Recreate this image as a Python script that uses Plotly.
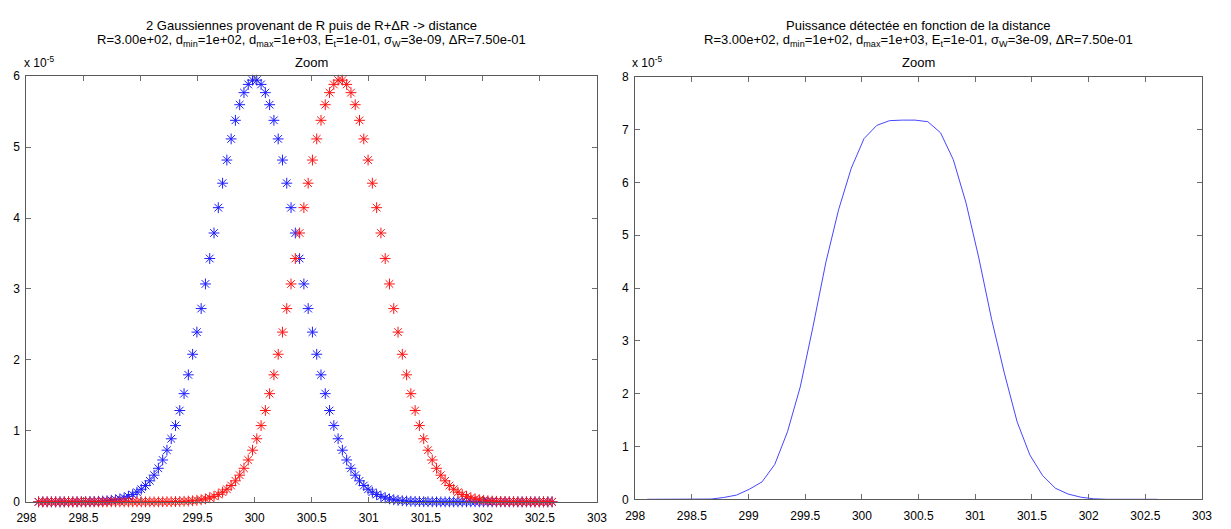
import plotly.graph_objects as go

# ---- data (values in units of 1e-5) ----
x_grid = [
    298.1063, 298.1438, 298.1813, 298.2188, 298.2563, 298.2938, 298.3313, 298.3688, 298.4063, 298.4438,
    298.4813, 298.5188, 298.5563, 298.5938, 298.6313, 298.6688, 298.7063, 298.7438, 298.7813, 298.8188,
    298.8563, 298.8938, 298.9313, 298.9688, 299.0063, 299.0438, 299.0813, 299.1188, 299.1563, 299.1938,
    299.2313, 299.2688, 299.3063, 299.3438, 299.3813, 299.4188, 299.4563, 299.4938, 299.5313, 299.5688,
    299.6063, 299.6438, 299.6813, 299.7188, 299.7563, 299.7938, 299.8313, 299.8688, 299.9063, 299.9438,
    299.9813, 300.0188, 300.0563, 300.0938, 300.1313, 300.1688, 300.2063, 300.2438, 300.2813, 300.3188,
    300.3563, 300.3938, 300.4313, 300.4688, 300.5063, 300.5438, 300.5813, 300.6188, 300.6563, 300.6938,
    300.7313, 300.7688, 300.8063, 300.8438, 300.8813, 300.9188, 300.9563, 300.9938, 301.0313, 301.0688,
    301.1063, 301.1438, 301.1813, 301.2188, 301.2563, 301.2938, 301.3313, 301.3688, 301.4063, 301.4438,
    301.4813, 301.5188, 301.5563, 301.5938, 301.6313, 301.6688, 301.7063, 301.7438, 301.7813, 301.8188,
    301.8563, 301.8938, 301.9313, 301.9688, 302.0063, 302.0438, 302.0813, 302.1188, 302.1563, 302.1938,
    302.2313, 302.2688, 302.3063, 302.3438, 302.3813, 302.4188, 302.4563, 302.4938, 302.5313, 302.5688,
    302.6063,
]

gauss_R = [
    0, 0, 0, 0, 0, 0, 0, 0, 0,
    0.001, 0.002, 0.002, 0.004, 0.005, 0.008, 0.011, 0.015, 0.022, 0.030,
    0.042, 0.057, 0.077, 0.103, 0.136, 0.178, 0.230, 0.296, 0.376, 0.473,
    0.590, 0.728, 0.889, 1.075, 1.287, 1.525, 1.790, 2.080, 2.392, 2.724,
    3.071, 3.429, 3.789, 4.146, 4.491, 4.817, 5.115, 5.377, 5.597, 5.767,
    5.883, 5.943,
    5.943, 5.883,
    5.767, 5.597, 5.377, 5.115, 4.817, 4.491, 4.146, 3.789, 3.429, 3.071,
    2.724, 2.392, 2.080, 1.790, 1.525, 1.287, 1.075, 0.889, 0.728, 0.590,
    0.473, 0.376, 0.296, 0.230, 0.178, 0.136, 0.103, 0.077, 0.057, 0.042,
    0.030, 0.022, 0.015, 0.011, 0.008, 0.005, 0.004, 0.002, 0.002, 0.001,
    0, 0, 0, 0, 0, 0, 0, 0, 0, 0, 0, 0, 0, 0,
    0, 0, 0, 0, 0, 0, 0, 0, 0, 0, 0, 0, 0, 0,
]

gauss_RdR = [
    0, 0, 0, 0, 0, 0, 0, 0, 0, 0, 0, 0, 0, 0, 0,
    0, 0, 0, 0, 0, 0, 0, 0, 0, 0, 0, 0, 0, 0,
    0.001, 0.002, 0.002, 0.004, 0.005, 0.008, 0.011, 0.015, 0.022, 0.030,
    0.042, 0.057, 0.077, 0.103, 0.136, 0.178, 0.230, 0.296, 0.376, 0.473,
    0.590, 0.728, 0.889, 1.075, 1.287, 1.525, 1.790, 2.080, 2.392, 2.724,
    3.071, 3.429, 3.789, 4.146, 4.491, 4.817, 5.115, 5.377, 5.597, 5.767,
    5.883, 5.943,
    5.943, 5.883,
    5.767, 5.597, 5.377, 5.115, 4.817, 4.491, 4.146, 3.789, 3.429, 3.071,
    2.724, 2.392, 2.080, 1.790, 1.525, 1.287, 1.075, 0.889, 0.728, 0.590,
    0.473, 0.376, 0.296, 0.230, 0.178, 0.136, 0.103, 0.077, 0.057, 0.042,
    0.030, 0.022, 0.015, 0.011, 0.008, 0.005, 0.004, 0.002, 0.002, 0.001,
    0, 0, 0, 0, 0, 0, 0, 0,
]

x_power = [
    298.1063, 298.2188, 298.3313, 298.4438, 298.5563, 298.6688, 298.7813, 298.8938, 299.0063, 299.1188,
    299.2313, 299.3438, 299.4563, 299.5688, 299.6813, 299.7938, 299.9063, 300.0188, 300.1313, 300.2438,
    300.3563, 300.4688, 300.5813, 300.6938, 300.8063, 300.9188, 301.0313, 301.1438, 301.2563, 301.3688,
    301.4813, 301.5938, 301.7063, 301.8188, 301.9313, 302.0438, 302.1563, 302.2688, 302.3813, 302.4938,
    302.6063,
]
power = [
    0, 0, 0, 0, 0, 0.005, 0.035, 0.08, 0.19, 0.33,
    0.66, 1.28, 2.13, 3.27, 4.48, 5.48, 6.27, 6.83, 7.08, 7.17,
    7.18, 7.18, 7.15, 6.94, 6.43, 5.61, 4.57, 3.41, 2.39, 1.47,
    0.84, 0.45, 0.21, 0.10, 0.04, 0.01, 0, 0, 0, 0,
    0,
]

x_ticks = [298, 298.5, 299, 299.5, 300, 300.5, 301, 301.5, 302, 302.5, 303]
x_ticktext = ["298", "298.5", "299", "299.5", "300", "300.5", "301", "301.5", "302", "302.5", "303"]
y1_ticks = [0, 1, 2, 3, 4, 5, 6]
y2_ticks = [0, 1, 2, 3, 4, 5, 6, 7, 8]
SCALE = 1e-5

title1_left = "2 Gaussiennes provenant de R puis de R+ΔR -> distance"
title1_right = "Puissance détectée en fonction de la distance"
title2 = ("R=3.00e+02, d<sub>min</sub>=1e+02, d<sub>max</sub>=1e+03, E<sub>t</sub>=1e-01, "
          "σ<sub>W</sub>=3e-09, ΔR=7.50e-01")
subtitle = "Zoom"

# ---- figure ----
W, H = 1231, 529
FONT = "Liberation Sans, Arial, sans-serif"
BLUE = "rgb(30,30,255)"
RED = "rgb(255,20,20)"

fig = go.Figure()
fig.add_trace(go.Scatter(
    x=x_grid, y=[v * SCALE for v in gauss_R], mode="markers", cliponaxis=False,
    marker=dict(symbol="asterisk-open", size=9, color=BLUE, line=dict(width=1, color=BLUE)),
    xaxis="x", yaxis="y", showlegend=False))
fig.add_trace(go.Scatter(
    x=x_grid, y=[v * SCALE for v in gauss_RdR], mode="markers", cliponaxis=False,
    marker=dict(symbol="asterisk-open", size=9, color=RED, line=dict(width=1, color=RED)),
    xaxis="x", yaxis="y", showlegend=False))
fig.add_trace(go.Scatter(
    x=x_power, y=[v * SCALE for v in power], mode="lines", cliponaxis=False,
    line=dict(color="rgb(70,70,255)", width=1),
    xaxis="x2", yaxis="y2", showlegend=False))

def px_x(p):
    return p / W

def px_y(p):
    return 1 - p / H

axis_common = dict(showgrid=False, zeroline=False, showline=True, mirror="ticks",
                   linecolor="rgb(90,90,90)", linewidth=1, ticks="inside", ticklen=5,
                   tickcolor="rgb(110,110,110)", tickfont=dict(family=FONT, size=12, color="black"))

fig.update_layout(
    width=W, height=H, margin=dict(l=0, r=0, t=0, b=0),
    paper_bgcolor="white", plot_bgcolor="white",
    font=dict(family=FONT, size=12, color="black"),
    xaxis=dict(domain=[px_x(16.7), px_x(596.7)], range=[298, 303], anchor="y",
               tickvals=x_ticks, ticktext=x_ticktext, ticklabelstandoff=5, **axis_common),
    yaxis=dict(domain=[px_y(508.3), px_y(71)], range=[0, 6 * SCALE], anchor="x",
               tickvals=[t * SCALE for t in y1_ticks], ticktext=[str(t) for t in y1_ticks],
               ticklabelstandoff=3, **axis_common),
    xaxis2=dict(domain=[px_x(635.5), px_x(1211.7)], range=[298, 303], anchor="y2",
                tickvals=x_ticks, ticktext=x_ticktext, ticklabelstandoff=5, **axis_common),
    yaxis2=dict(domain=[px_y(505.7), px_y(71.7)], range=[0, 8 * SCALE], anchor="x2",
                tickvals=[t * SCALE for t in y2_ticks], ticktext=[str(t) for t in y2_ticks],
                ticklabelstandoff=3, **axis_common),
)

ann = []
for cx, t1, axl in [(306.7, title1_left, 12), (923.6, title1_right, 630)]:
    ann.append(dict(x=px_x(cx), y=px_y(19), text=t1, showarrow=False, xref="paper", yref="paper",
                    xanchor="center", yanchor="middle", font=dict(family=FONT, size=13)))
    ann.append(dict(x=px_x(cx), y=px_y(34), text=title2, showarrow=False, xref="paper", yref="paper",
                    xanchor="center", yanchor="middle", font=dict(family=FONT, size=13)))
    ann.append(dict(x=px_x(cx), y=px_y(57), text=subtitle, showarrow=False, xref="paper", yref="paper",
                    xanchor="center", yanchor="middle", font=dict(family=FONT, size=13)))
    ann.append(dict(x=px_x(axl), y=px_y(67), text="x 10<sup>-5</sup>", showarrow=False,
                    xref="paper", yref="paper", xanchor="left", yanchor="bottom",
                    font=dict(family=FONT, size=12)))
fig.update_layout(annotations=ann)

fig.write_html("out.html")
